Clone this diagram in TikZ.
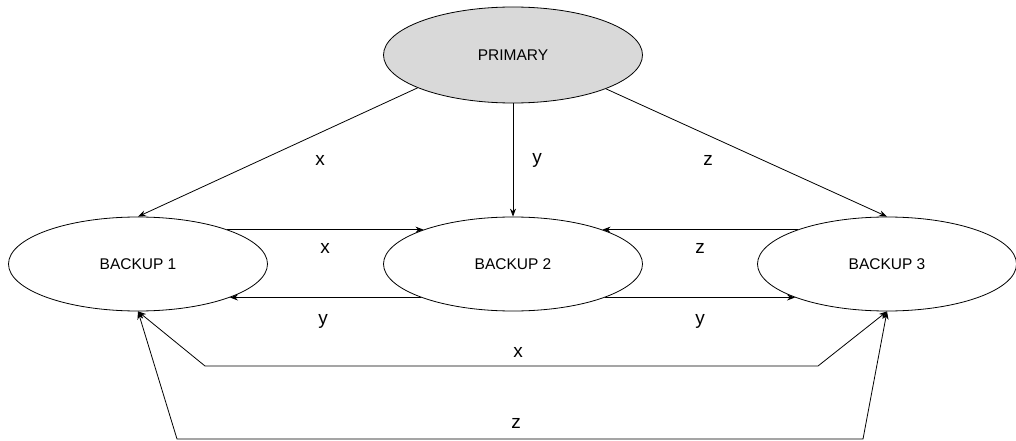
\documentclass[tikz,border=0pt]{standalone}
\usepackage{fontspec}
\setmainfont{Liberation Sans}
\usetikzlibrary{shapes.geometric,arrows.meta}
\definecolor{primfill}{HTML}{D9D9D9}
\begin{document}
\begin{tikzpicture}[x=1pt,y=-1pt,
  state/.style={ellipse,draw,line width=0.8pt,minimum width=259pt,minimum height=94pt,inner sep=0pt,font=\fontsize{15.5}{18}\selectfont},
  flow/.style={line width=0.8pt,-{Stealth[length=8pt,width=6pt]}},
  twoway/.style={line width=0.8pt,{Stealth[length=8pt,width=6pt]}-{Stealth[length=8pt,width=6pt]}},
  lbl/.style={font=\fontsize{19}{22}\selectfont,inner sep=0pt}]
\useasboundingbox (0,0) rectangle (1016,441);

% replica nodes
\node[state,fill=primfill,minimum height=96pt] (p) at (513,55) {PRIMARY};
\node[state] (b1) at (138,264) {BACKUP 1};
\node[state] (b2) at (513,264) {BACKUP 2};
\node[state] (b3) at (887,264) {BACKUP 3};

% primary to backups
\draw[flow] (p.199.5) -- (b1.north);
\draw[flow] (p.south) -- (b2.north);
\draw[flow] (p.340.5) -- (b3.north);

% between neighbouring backups
\draw[flow] (b1.21) -- (b2.159);
\draw[flow] (b2.200) -- (b1.340);
\draw[flow] (b3.159) -- (b2.21);
\draw[flow] (b2.340) -- (b3.200);

% long links under the backups
\coordinate (xl) at (205,366);
\coordinate (xr) at (818,366);
\coordinate (zl) at (177,439);
\coordinate (zr) at (863,439);
\draw[twoway] (b1.south) -- (xl) -- (xr) -- (b3.south);
\draw[twoway] (b1.south) -- (zl) -- (zr) -- (b3.south);

% labels
\node[lbl] (l1) at (320,160) {x};
\node[lbl] (l2) at (537,160) {y};
\node[lbl] (l3) at (708,160) {z};
\node[lbl] (l4) at (325,248) {x};
\node[lbl] (l5) at (700,248) {z};
\node[lbl] (l6) at (323,321) {y};
\node[lbl] (l7) at (700,321) {y};
\node[lbl] (l8) at (518,352) {x};
\node[lbl] (l9) at (516,423) {z};
\end{tikzpicture}
\end{document}
